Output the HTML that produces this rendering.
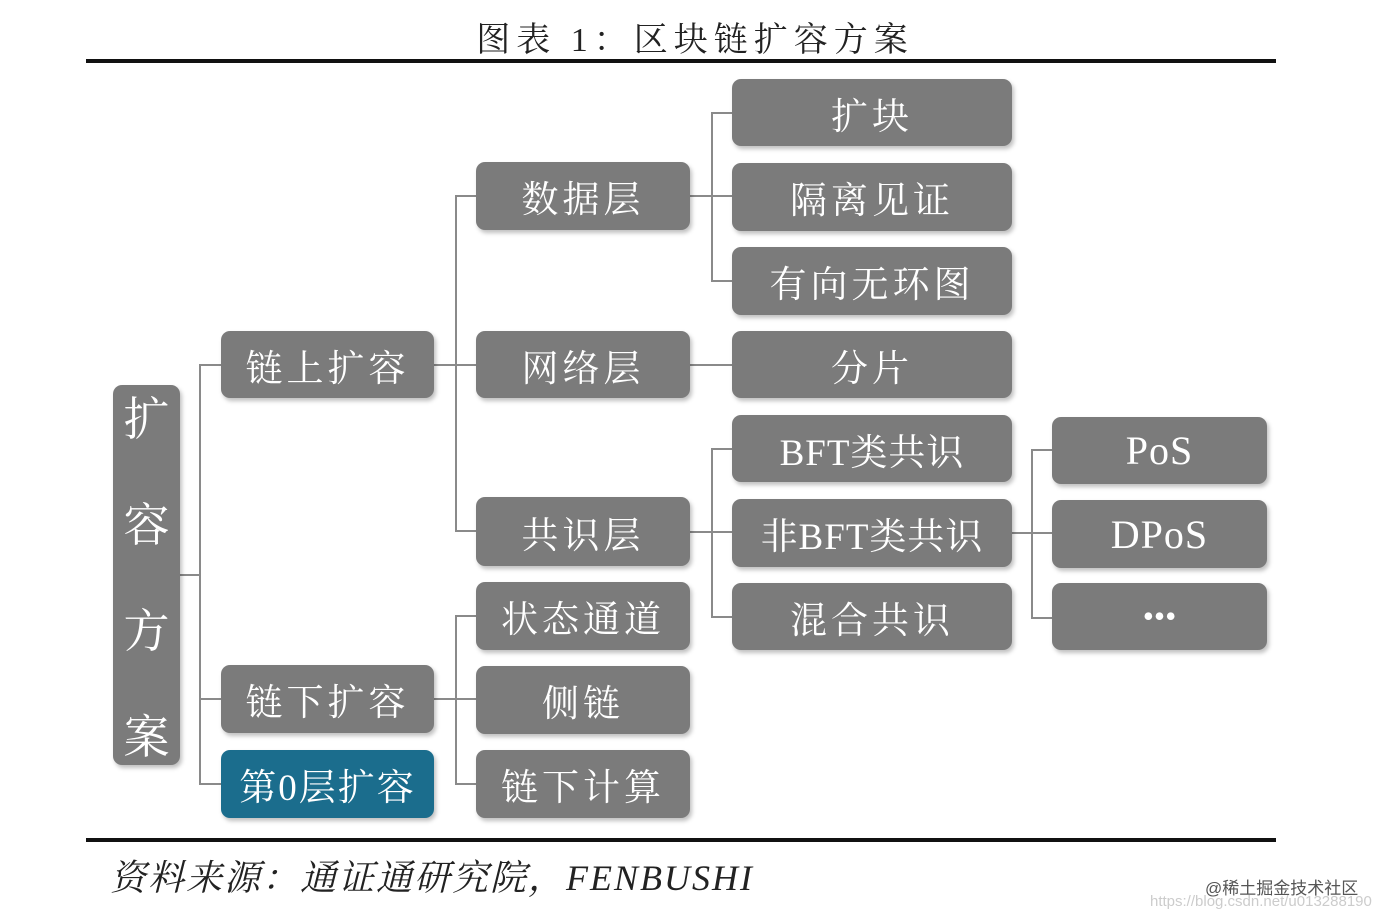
<!DOCTYPE html>
<html><head><meta charset="utf-8"><style>
body{margin:0;width:1390px;height:920px;background:#fff;position:relative;overflow:hidden;font-family:"Liberation Serif","Noto Serif CJK SC",serif}
.b{position:absolute;background:#7b7b7b;border-radius:9px;color:#fff;display:flex;align-items:center;justify-content:center;font-size:37px;letter-spacing:4px;box-shadow:2px 3px 4px rgba(0,0,0,0.25)}
.l{position:absolute;background:#8a8a8a}
.h{height:2px}.v{width:2px}
</style></head><body>
<div style="position:absolute;left:0;width:1390px;top:12px;text-align:center;font-size:34px;letter-spacing:6px;color:#222">图表 1：区块链扩容方案</div>
<div style="position:absolute;left:86px;top:59px;width:1190px;height:4px;background:#111"></div>
<div style="position:absolute;left:86px;top:838px;width:1190px;height:4px;background:#111"></div>
<div style="position:absolute;left:110px;top:850px;font-size:36px;letter-spacing:2px;font-style:italic;color:#222">资料来源：通证通研究院，FENBUSHI</div>
<div style="position:absolute;left:1205px;top:874px;font-size:17px;color:#555;font-family:'Liberation Sans','Noto Sans CJK SC',sans-serif">@稀土掘金技术社区</div>
<div style="position:absolute;left:1150px;top:893px;font-size:15px;color:#ccc;font-family:'Liberation Sans',sans-serif">https://blog.csdn.net/u013288190</div>

<div class="l h" style="left:180px;top:574px;width:20px"></div>
<div class="l v" style="left:199px;top:364px;height:421px"></div>
<div class="l h" style="left:199px;top:364px;width:22px"></div>
<div class="l h" style="left:199px;top:698px;width:22px"></div>
<div class="l h" style="left:199px;top:783px;width:22px"></div>
<div class="l h" style="left:434px;top:364px;width:42px"></div>
<div class="l v" style="left:455px;top:195px;height:337px"></div>
<div class="l h" style="left:455px;top:195px;width:21px"></div>
<div class="l h" style="left:455px;top:530px;width:21px"></div>
<div class="l h" style="left:434px;top:698px;width:42px"></div>
<div class="l v" style="left:455px;top:615px;height:169px"></div>
<div class="l h" style="left:455px;top:615px;width:21px"></div>
<div class="l h" style="left:455px;top:783px;width:21px"></div>
<div class="l h" style="left:690px;top:195px;width:42px"></div>
<div class="l v" style="left:711px;top:112px;height:169px"></div>
<div class="l h" style="left:711px;top:112px;width:21px"></div>
<div class="l h" style="left:711px;top:280px;width:21px"></div>
<div class="l h" style="left:690px;top:364px;width:42px"></div>
<div class="l h" style="left:690px;top:531px;width:42px"></div>
<div class="l v" style="left:711px;top:448px;height:169px"></div>
<div class="l h" style="left:711px;top:448px;width:21px"></div>
<div class="l h" style="left:711px;top:616px;width:21px"></div>
<div class="l h" style="left:1012px;top:532px;width:40px"></div>
<div class="l v" style="left:1031px;top:449px;height:169px"></div>
<div class="l h" style="left:1031px;top:449px;width:21px"></div>
<div class="l h" style="left:1031px;top:617px;width:21px"></div>

<div class="b" style="left:113px;top:385px;width:67px;height:380px;flex-direction:column;font-size:46px;gap:40px;letter-spacing:0"><span>扩</span><span>容</span><span>方</span><span>案</span></div>
<div class="b" style="left:221px;top:331px;width:213px;height:67px">链上扩容</div>
<div class="b" style="left:221px;top:665px;width:213px;height:68px">链下扩容</div>
<div class="b" style="left:221px;top:750px;width:213px;height:68px;background:#1b6d8d;letter-spacing:2px">第0层扩容</div>
<div class="b" style="left:476px;top:162px;width:214px;height:68px">数据层</div>
<div class="b" style="left:476px;top:331px;width:214px;height:67px">网络层</div>
<div class="b" style="left:476px;top:497px;width:214px;height:69px">共识层</div>
<div class="b" style="left:476px;top:582px;width:214px;height:68px">状态通道</div>
<div class="b" style="left:476px;top:666px;width:214px;height:68px">侧链</div>
<div class="b" style="left:476px;top:750px;width:214px;height:68px">链下计算</div>
<div class="b" style="left:732px;top:79px;width:280px;height:67px">扩块</div>
<div class="b" style="left:732px;top:163px;width:280px;height:68px">隔离见证</div>
<div class="b" style="left:732px;top:247px;width:280px;height:68px">有向无环图</div>
<div class="b" style="left:732px;top:331px;width:280px;height:67px">分片</div>
<div class="b" style="left:732px;top:415px;width:280px;height:67px;letter-spacing:1px">BFT类共识</div>
<div class="b" style="left:732px;top:499px;width:280px;height:68px;letter-spacing:1px">非BFT类共识</div>
<div class="b" style="left:732px;top:583px;width:280px;height:67px">混合共识</div>
<div class="b" style="left:1052px;top:417px;width:215px;height:67px;font-size:40px;letter-spacing:1px">PoS</div>
<div class="b" style="left:1052px;top:500px;width:215px;height:68px;font-size:40px;letter-spacing:1px">DPoS</div>
<div class="b" style="left:1052px;top:583px;width:215px;height:67px;font-size:32px;letter-spacing:0">•••</div>
</body></html>
